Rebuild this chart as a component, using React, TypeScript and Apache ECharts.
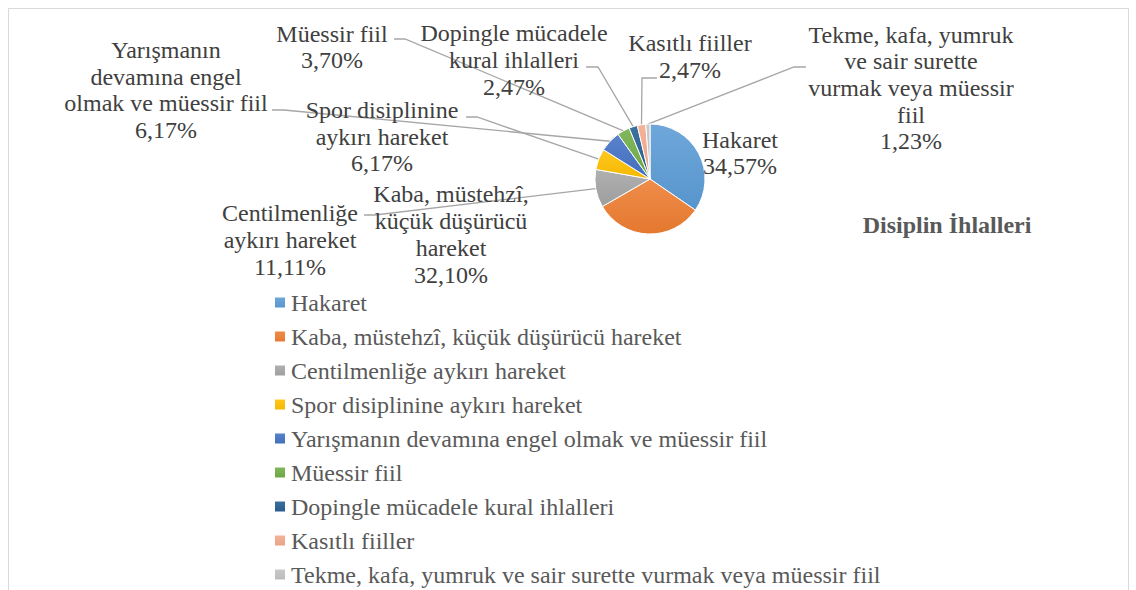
import React, { useEffect, useRef } from 'react';
import * as echarts from 'echarts';

// ---- data ----
const categories = [
  'Hakaret',
  'Kaba, müstehzî, küçük düşürücü hareket',
  'Centilmenliğe aykırı hareket',
  'Spor disiplinine aykırı hareket',
  'Yarışmanın devamına engel olmak ve müessir fiil',
  'Müessir fiil',
  'Dopingle mücadele kural ihlalleri',
  'Kasıtlı fiiller',
  'Tekme, kafa, yumruk ve sair surette vurmak veya müessir fiil',
];
const labelNames = [
  'Hakaret',
  'Kaba, müstehzî,\nküçük düşürücü\nhareket',
  'Centilmenliğe\naykırı hareket',
  'Spor disiplinine\naykırı hareket',
  'Yarışmanın\ndevamına engel\nolmak ve müessir fiil',
  'Müessir fiil',
  'Dopingle mücadele\nkural ihlalleri',
  'Kasıtlı fiiller',
  'Tekme, kafa, yumruk\nve sair surette\nvurmak veya müessir\nfiil',
];
const counts = [28, 26, 9, 5, 5, 3, 2, 2, 1];
const titleText = 'Disiplin İhlalleri';

// ---- styles / layout ----
const colors = ['#5B9BD5', '#ED7D31', '#A5A5A5', '#FFC000', '#4472C4', '#70AD47', '#255E91', '#F3A98C', '#C3C3C3'];
const labelCenters: [number, number][] = [
  [740, 153],
  [451, 234.5],
  [290, 240],
  [382, 136.5],
  [166, 90],
  [332, 47],
  [514, 60],
  [690, 56.5],
  [911, 88],
];
// [anchorX, anchorY, elbowDx] ; null = no leader line
const labelAnchors: ([number, number, number] | null)[] = [
  null,
  null,
  [364, 215, 11],
  [466, 117, 11],
  [272, 110, 12],
  [394, 39, 11],
  [586, 67, 12],
  [657, 78, -15],
  [806, 67, -12],
];
const FONT = 'Liberation Serif';

function mix(hex: string, target: number, t: number) {
  const n = parseInt(hex.slice(1), 16);
  const ch = [(n >> 16) & 255, (n >> 8) & 255, n & 255].map((c) => Math.round(c + (target - c) * t));
  return 'rgb(' + ch.join(',') + ')';
}

export default function App() {
  const ref = useRef<HTMLDivElement>(null);
  useEffect(() => {
    if (!ref.current) return;
    const chart = echarts.init(ref.current, null, { renderer: 'svg' });
    const total = counts.reduce((a, b) => a + b, 0);
    const data = categories.map((name, i) => ({
      name,
      value: counts[i],
      itemStyle: {
        color: new echarts.graphic.LinearGradient(0, 0, 0, 1, [
          { offset: 0, color: mix(colors[i], 255, 0.12) },
          { offset: 1, color: mix(colors[i], 0, 0.04) },
        ]),
      },
      labelLine: { show: labelAnchors[i] != null },
    }));
    chart.setOption({
      animation: false,
      backgroundColor: '#ffffff',
      title: {
        text: titleText,
        left: 947,
        top: 213,
        textAlign: 'center',
        padding: 0,
        textStyle: { fontFamily: FONT, fontSize: 24, fontWeight: 'bold', color: '#595959' },
      },
      legend: {
        orient: 'vertical',
        left: 273,
        top: 290.5,
        padding: 0,
        height: 300,
        icon: 'rect',
        itemWidth: 12,
        itemHeight: 12,
        itemGap: 10,
        selectedMode: false,
        data: categories,
        textStyle: { fontFamily: FONT, fontSize: 24, color: '#595959' },
      },
      graphic: [
        {
          type: 'rect',
          shape: { x: 8.5, y: 8.5, width: 1120, height: 700 },
          style: { fill: 'none', stroke: '#D9D9D9', lineWidth: 1 },
          silent: true,
        },
      ],
      series: [
        {
          type: 'pie',
          radius: 55,
          center: [650, 179],
          startAngle: 90,
          clockwise: true,
          avoidLabelOverlap: false,
          itemStyle: { borderColor: '#ffffff', borderWidth: 1 },
          label: {
            show: true,
            position: 'outside',
            fontFamily: FONT,
            fontSize: 24,
            lineHeight: 26.7,
            color: '#404040',
            align: 'center',
            formatter: (p: any) =>
              labelNames[p.dataIndex] + '\n' + ((counts[p.dataIndex] / total) * 100).toFixed(2).replace('.', ',') + '%',
          },
          labelLine: { show: true, length: 10, length2: 10, lineStyle: { color: '#A6A6A6', width: 1.3 } },
          labelLayout: (params: any) => {
            const i = params.dataIndex;
            const [x, y] = labelCenters[i];
            const res: any = { x, y, align: 'center', verticalAlign: 'middle' };
            const a = labelAnchors[i];
            if (a && params.labelLinePoints && params.labelLinePoints[0]) {
              const p0 = params.labelLinePoints[0];
              res.labelLinePoints = [[p0[0], p0[1]], [a[0] + a[2], a[1]], [a[0], a[1]]];
            }
            return res;
          },
          data,
        },
      ],
    });
    return () => chart.dispose();
  }, []);
  return <div ref={ref} style={{ position: 'fixed', left: 0, top: 0, width: 1136, height: 590 }} />;
}
